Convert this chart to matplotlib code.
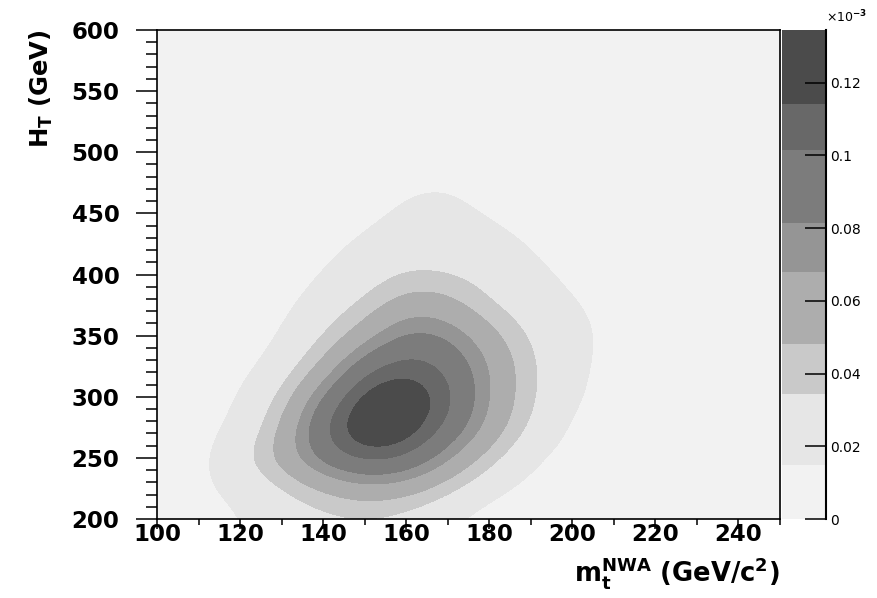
import numpy as np
import matplotlib
matplotlib.use("Agg")
import matplotlib.pyplot as plt
from matplotlib.colors import ListedColormap, BoundaryNorm
from matplotlib.ticker import MultipleLocator

plt.rcParams["font.family"] = ["DejaVu Sans"]
plt.rcParams["font.weight"] = "bold"
plt.rcParams["axes.labelweight"] = "bold"
plt.rcParams["mathtext.fontset"] = "custom"
plt.rcParams["mathtext.rm"] = "DejaVu Sans:bold"
plt.rcParams["mathtext.it"] = "DejaVu Sans:bold"
plt.rcParams["mathtext.bf"] = "DejaVu Sans:bold"

# =========================
# Data (density in units of 1e-3)
# =========================
mt_values = [100, 110, 120, 130, 140, 150, 160, 170, 180, 190, 200, 210, 220, 230, 240, 250]
ht_values = [200, 225, 250, 275, 300, 325, 350, 375, 400, 425, 450, 475, 500, 525, 550, 575, 600]

density = [
    [0.003, 0.008, 0.014, 0.022, 0.028, 0.031, 0.026, 0.015, 0.008, 0.005, 0.003, 0.002, 0.001, 0, 0, 0],
    [0.007, 0.012, 0.019, 0.032, 0.050, 0.062, 0.057, 0.038, 0.018, 0.010, 0.006, 0.004, 0.002, 0.001, 0, 0],
    [0.006, 0.010, 0.028, 0.057, 0.092, 0.112, 0.104, 0.072, 0.040, 0.016, 0.009, 0.006, 0.003, 0.001, 0, 0],
    [0.006, 0.009, 0.018, 0.050, 0.105, 0.131, 0.128, 0.100, 0.062, 0.030, 0.011, 0.007, 0.004, 0.002, 0.001, 0],
    [0.004, 0.007, 0.014, 0.036, 0.085, 0.125, 0.128, 0.110, 0.068, 0.036, 0.016, 0.009, 0.005, 0.003, 0.001, 0],
    [0.003, 0.005, 0.010, 0.022, 0.052, 0.098, 0.112, 0.100, 0.068, 0.036, 0.018, 0.010, 0.006, 0.003, 0.001, 0],
    [0.002, 0.003, 0.006, 0.015, 0.033, 0.060, 0.088, 0.082, 0.056, 0.031, 0.019, 0.011, 0.006, 0.003, 0.001, 0],
    [0.001, 0.002, 0.005, 0.011, 0.022, 0.038, 0.060, 0.057, 0.035, 0.023, 0.016, 0.010, 0.005, 0.002, 0.001, 0],
    [0.001, 0.002, 0.004, 0.008, 0.015, 0.024, 0.037, 0.035, 0.026, 0.018, 0.012, 0.007, 0.004, 0.002, 0, 0],
    [0.001, 0.002, 0.003, 0.006, 0.011, 0.017, 0.022, 0.022, 0.019, 0.014, 0.009, 0.005, 0.003, 0.001, 0, 0],
    [0, 0.001, 0.002, 0.004, 0.007, 0.012, 0.017, 0.018, 0.014, 0.010, 0.006, 0.003, 0.002, 0.001, 0, 0],
    [0, 0, 0.001, 0.002, 0.004, 0.008, 0.0135, 0.0145, 0.010, 0.006, 0.003, 0.002, 0.001, 0, 0, 0],
    [0, 0, 0, 0.001, 0.002, 0.004, 0.007, 0.008, 0.006, 0.004, 0.002, 0.001, 0, 0, 0, 0],
    [0, 0, 0, 0, 0.001, 0.002, 0.003, 0.004, 0.003, 0.002, 0.001, 0, 0, 0, 0, 0],
    [0, 0, 0, 0, 0, 0.001, 0.002, 0.002, 0.002, 0.001, 0, 0, 0, 0, 0, 0],
    [0, 0, 0, 0, 0, 0, 0.001, 0.001, 0.001, 0, 0, 0, 0, 0, 0, 0],
    [0, 0, 0, 0, 0, 0, 0, 0, 0, 0, 0, 0, 0, 0, 0, 0],
]

# contour levels and grey shades (low -> high)
levels = [0, 0.0148, 0.0344, 0.0481, 0.068, 0.0814, 0.1015, 0.1141, 0.1345]
greys = ["#f2f2f2", "#e6e6e6", "#c9c9c9", "#adadad", "#959595", "#7c7c7c", "#686868", "#4b4b4b"]
cbar_ticks = [0, 0.02, 0.04, 0.06, 0.08, 0.1, 0.12]
cbar_labels = ["0", "0.02", "0.04", "0.06", "0.08", "0.1", "0.12"]

# =========================
# Plot
# =========================
fig = plt.figure(figsize=(8.77, 5.98), dpi=100)
ax = fig.add_axes([0.179, 0.1321, 0.7104, 0.8177])
cax = fig.add_axes([0.8917, 0.1321, 0.0502, 0.8177])

cmap = ListedColormap(greys)
cmap.set_under(greys[0])
cmap.set_over(greys[-1])
norm = BoundaryNorm(levels, cmap.N)

dx = (mt_values[1] - mt_values[0]) / 2
dy = (ht_values[1] - ht_values[0]) / 2
img = ax.imshow(np.array(density), origin="lower", aspect="auto", cmap=cmap, norm=norm,
                interpolation="bicubic", interpolation_stage="data",
                extent=[mt_values[0] - dx, mt_values[-1] + dx, ht_values[0] - dy, ht_values[-1] + dy])

ax.set_xlim(100, 250)
ax.set_ylim(200, 600)

ax.xaxis.set_major_locator(MultipleLocator(20))
ax.xaxis.set_minor_locator(MultipleLocator(10))
ax.yaxis.set_major_locator(MultipleLocator(50))
ax.yaxis.set_minor_locator(MultipleLocator(10))
ax.tick_params(axis="x", which="both", direction="out", top=False, labelsize=16.5, pad=-4, width=1.1)
ax.tick_params(axis="x", which="major", length=7)
ax.tick_params(axis="x", which="minor", length=4)
ax.tick_params(axis="y", which="both", direction="out", right=False, labelsize=16.5, pad=12, width=1.1)
ax.tick_params(axis="y", which="major", length=15)
ax.tick_params(axis="y", which="minor", length=8)
for s in ax.spines.values():
    s.set_linewidth(1.2)

ax.set_xlabel(r"$\mathrm{m}_{\mathrm{t}}^{\mathrm{NWA}}$ (GeV/c$^{2}$)", fontsize=18.5, ha="right", va="top")
ax.xaxis.set_label_coords(1.0, -0.074)
ax.set_ylabel(r"H$_{\mathrm{T}}$ (GeV)", fontsize=17.5, ha="right")
ax.yaxis.set_label_coords(-0.163, 1.0)

# colour scale
cb = fig.colorbar(img, cax=cax, spacing="proportional", ticks=cbar_ticks)
cb.outline.set_visible(False)
cb.minorticks_off()
cax.set_yticklabels(cbar_labels, fontweight="normal")
cax.tick_params(axis="y", direction="in", length=15, width=1.1, labelsize=10, pad=3, right=True)
cax.plot([1, 1], [0, 1], transform=cax.transAxes, color="black", lw=1.5, clip_on=False)
fig.text(0.9415, 0.957, r"×10$^{-3}$", fontsize=9, fontweight="normal", ha="left", va="bottom")

plt.savefig("out.png", dpi=100)
